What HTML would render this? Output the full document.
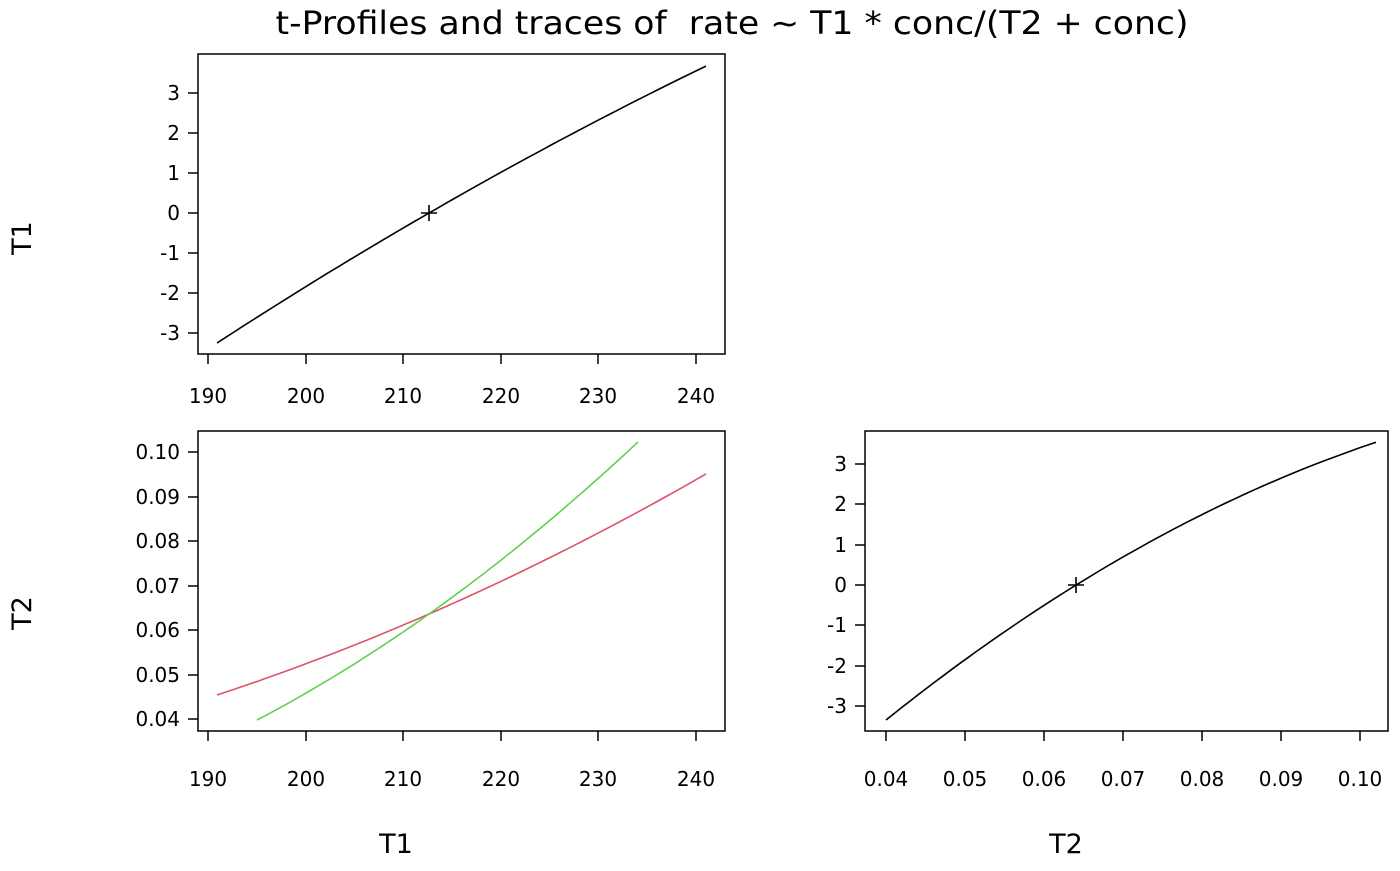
<!DOCTYPE html>
<html><head><style>
body{margin:0;background:#fff;}
text{font-family:"DejaVu Sans","Liberation Sans",sans-serif;fill:#000;}
</style></head><body>
<svg id="s" width="1400" height="866" viewBox="0 0 1400 866" xmlns="http://www.w3.org/2000/svg">
<text x="732" y="34" font-size="32" text-anchor="middle" textLength="913" lengthAdjust="spacingAndGlyphs">t-Profiles and traces of&#160; rate ~ T1 * conc/(T2 + conc)</text>
<g stroke="#000" stroke-width="1.5" fill="none">
<rect x="198" y="54" width="527" height="300"/>
<rect x="198" y="431" width="527" height="300"/>
<rect x="865" y="431" width="523" height="300"/>
<path d="M198 93h-10M198 133h-10M198 173h-10M198 213h-10M198 253h-10M198 293h-10M198 333h-10"/>
<path d="M208 354v10M306 354v10M403 354v10M501 354v10M598 354v10M696 354v10"/>
<path d="M198 452h-10M198 497h-10M198 541h-10M198 586h-10M198 630h-10M198 675h-10M198 719h-10"/>
<path d="M208 731v10M306 731v10M403 731v10M501 731v10M598 731v10M696 731v10"/>
<path d="M865 464h-10M865 504h-10M865 545h-10M865 585h-10M865 625h-10M865 666h-10M865 706h-10"/>
<path d="M886 731v10M965 731v10M1044 731v10M1123 731v10M1202 731v10M1281 731v10M1360 731v10"/>
</g>
<g fill="none" stroke-width="1.6">
<polyline id="c1" stroke="#000" points=""/>
<path stroke="#000" d="M421 213h16M429 205v16"/>
<polyline id="c2" stroke="#000" points=""/>
<path stroke="#000" d="M1068 585h16M1076 577v16"/>
<polyline id="c3" stroke="#df536b" points=""/>
<polyline id="c4" stroke="#61d04f" points=""/>
</g>
<g font-size="20" text-anchor="end">
<text x="180" y="100">3</text><text x="180" y="140">2</text><text x="180" y="180">1</text><text x="180" y="220">0</text><text x="180" y="260">-1</text><text x="180" y="300">-2</text><text x="180" y="340">-3</text>
<text x="180" y="459">0.10</text><text x="180" y="504">0.09</text><text x="180" y="548">0.08</text><text x="180" y="593">0.07</text><text x="180" y="637">0.06</text><text x="180" y="682">0.05</text><text x="180" y="726">0.04</text>
<text x="847" y="471">3</text><text x="847" y="511">2</text><text x="847" y="552">1</text><text x="847" y="592">0</text><text x="847" y="632">-1</text><text x="847" y="673">-2</text><text x="847" y="713">-3</text>
</g>
<g font-size="20" text-anchor="middle">
<text x="208" y="403">190</text><text x="306" y="403">200</text><text x="403" y="403">210</text><text x="501" y="403">220</text><text x="598" y="403">230</text><text x="696" y="403">240</text>
<text x="208" y="786">190</text><text x="306" y="786">200</text><text x="403" y="786">210</text><text x="501" y="786">220</text><text x="598" y="786">230</text><text x="696" y="786">240</text>
<text x="886" y="786">0.04</text><text x="965" y="786">0.05</text><text x="1044" y="786">0.06</text><text x="1123" y="786">0.07</text><text x="1202" y="786">0.08</text><text x="1281" y="786">0.09</text><text x="1360" y="786">0.10</text>
</g>
<g font-size="27" text-anchor="middle">
<text x="396" y="853">T1</text><text x="1066" y="853">T2</text>
<text transform="translate(31,238) rotate(-90)">T1</text>
<text transform="translate(31,613) rotate(-90)">T2</text>
</g>
</svg>
<script>
function mk(id,x0,x1,y0,b,c){var p=[];for(var i=0;i<=60;i++){var x=x0+(x1-x0)*i/60,u=x-x0;p.push(x.toFixed(1)+','+(y0+b*u+c*u*u).toFixed(1));}document.getElementById(id).setAttribute('points',p.join(' '));}
mk('c1',217,706,343,-0.649,0.000169);
mk('c2',886,1376,720,-0.801,0.000478);
mk('c3',217,706,695,-0.3286,-0.0002525);
mk('c4',257,638,720,-0.5229,-0.000543);
</script>
</body></html>
